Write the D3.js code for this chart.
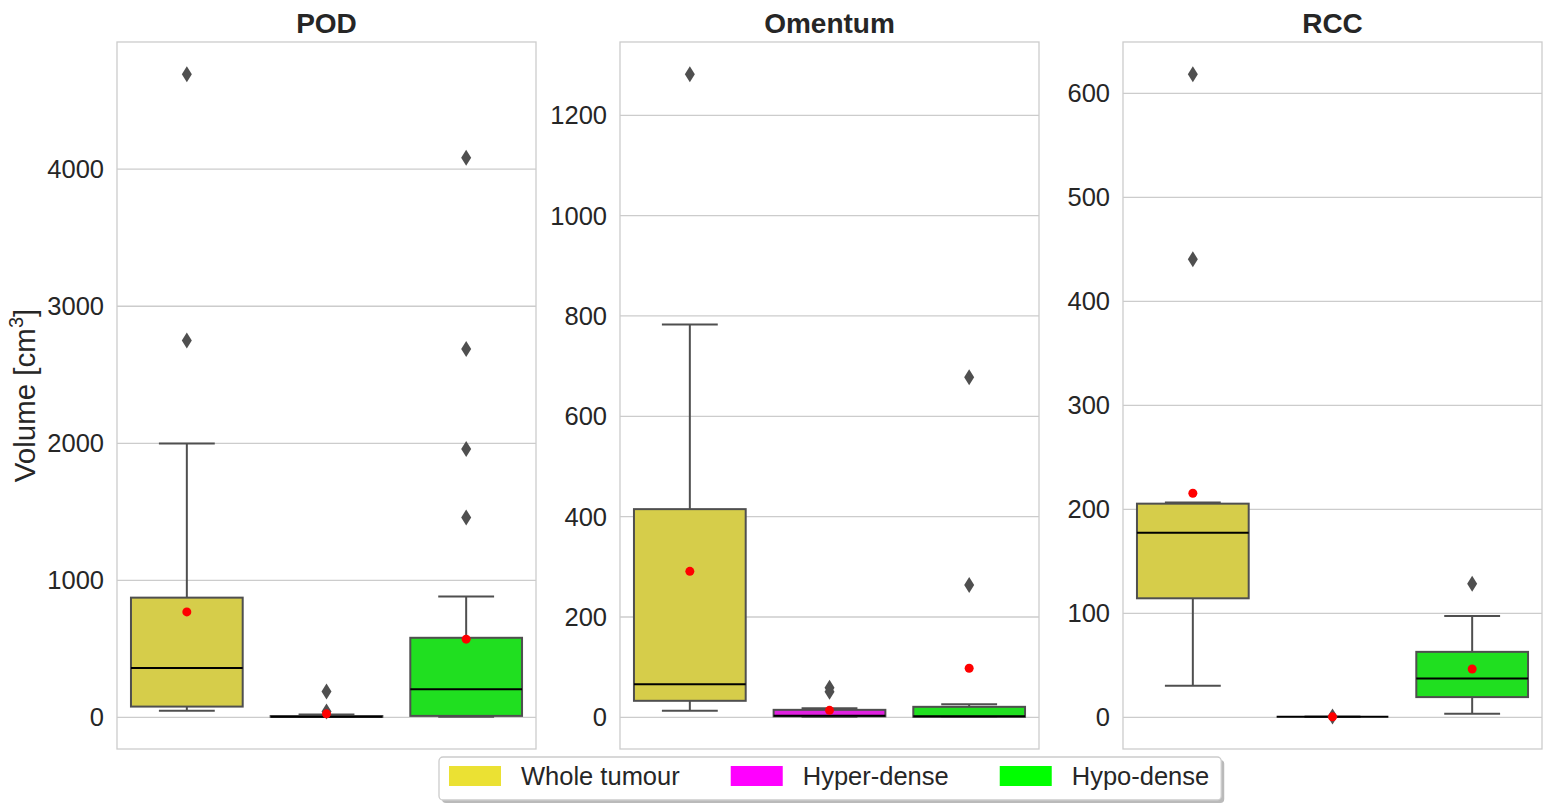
<!DOCTYPE html>
<html>
<head>
<meta charset="utf-8">
<script src="https://cdn.jsdelivr.net/npm/d3@7"></script>
<style>
  html, body { margin: 0; padding: 0; background: #fff; }
  svg { display: block; font-family: "Liberation Sans", Arial, Helvetica, sans-serif; }
</style>
</head>
<body>
<svg id="chart"></svg>
<script>
(function() {

    // categories
    const panelNames = ['POD', 'Omentum', 'RCC'];
    const groupNames = ['Whole tumour', 'Hyper-dense', 'Hypo-dense'];

    // box summaries per group: [whisker low, Q1, median, Q3, whisker high]
    const podBoxes = [[44, 75, 356, 870, 1995], [0, 0, 1, 6, 17], [0, 7, 202, 577, 878]];
    const podMeans = [766, 22, 567];
    const podFliers = [[4690, 2747], [185, 40], [4080, 2684, 1955, 1455]];
    const podTicks = [0, 1000, 2000, 3000, 4000];

    const omentumBoxes = [[12, 32, 65, 414, 782], [0, 1, 2, 14, 17], [0, 0, 1, 20, 25]];
    const omentumMeans = [290, 13, 97];
    const omentumFliers = [[1281], [58, 50], [677, 263]];
    const omentumTicks = [0, 200, 400, 600, 800, 1000, 1200];

    const rccBoxes = [[30, 114, 177, 205, 206], [0, 0, 0, 0, 0], [3, 19, 37, 62.5, 97]];
    const rccMeans = [215, 0, 46];
    const rccFliers = [[618, 440], [0.3], [128]];
    const rccTicks = [0, 100, 200, 300, 400, 500, 600];

    const legendColors = ['#ebe133', '#ff00ff', '#00ff00'];
    const boxColors = ['#d6cd4a', '#df20df', '#20df20'];

    const panels = [
        { name: panelNames[0], boxes: podBoxes, means: podMeans, fliers: podFliers, ticks: podTicks },
        { name: panelNames[1], boxes: omentumBoxes, means: omentumMeans, fliers: omentumFliers, ticks: omentumTicks },
        { name: panelNames[2], boxes: rccBoxes, means: rccMeans, fliers: rccFliers, ticks: rccTicks },
    ];

    const w = 1554;
    const h = 803;
    const firstLeft = 117;
    const panelW = 419;
    const panelGap = 84;
    const top = 42;
    const bottom = 749;
    const textColor = '#262626';
    const lineGray = '#4f4f4f';
    const gridColor = '#cccccc';

    const svg = d3.select('#chart')
        .attr('width', w)
        .attr('height', h);

    const scaleX = d3.scaleBand()
        .domain(groupNames)
        .range([0, panelW]);
    const boxW = scaleX.bandwidth() * 0.8;
    const capW = boxW / 2;

    const diamond = 'M0,-8L5,0L0,8L-5,0Z';

    panels.forEach((p, pi) => {

        const left = firstLeft + pi * (panelW + panelGap);
        const all = p.boxes.flat().concat(p.means, p.fliers.flat());
        const lo = d3.min(all);
        const hi = d3.max(all);
        const pad = (hi - lo) * 0.05;

        const scaleY = d3.scaleLinear()
            .domain([lo - pad, hi + pad])
            .range([bottom, top]);

        const g = svg.append('g')
            .attr('transform', `translate(${left}, 0)`);

        // Grid + tick labels
        const yAxis = d3.axisLeft(scaleY)
            .tickValues(p.ticks)
            .tickSize(-panelW)
            .tickPadding(13)
            .tickFormat(d3.format('d'));

        const axisG = g.append('g').call(yAxis);
        axisG.select('.domain').remove();
        axisG.selectAll('.tick line')
            .attr('stroke', gridColor)
            .attr('stroke-width', 1.3);
        axisG.selectAll('.tick text')
            .attr('fill', textColor)
            .style('font-size', '25.5px')
            .attr('dy', '0.35em');

        // Title
        g.append('text')
            .attr('x', panelW / 2)
            .attr('y', 33)
            .attr('text-anchor', 'middle')
            .attr('fill', textColor)
            .style('font-size', '28px')
            .style('font-weight', 'bold')
            .text(p.name);

        // Boxes
        p.boxes.forEach((b, i) => {
            const cx = scaleX(groupNames[i]) + scaleX.bandwidth() / 2;
            const [wlo, q1, med, q3, whi] = b;
            const bg = g.append('g');

            bg.append('line')
                .attr('x1', cx).attr('x2', cx)
                .attr('y1', scaleY(q3)).attr('y2', scaleY(whi))
                .attr('stroke', lineGray).attr('stroke-width', 2);
            bg.append('line')
                .attr('x1', cx).attr('x2', cx)
                .attr('y1', scaleY(q1)).attr('y2', scaleY(wlo))
                .attr('stroke', lineGray).attr('stroke-width', 2);

            [wlo, whi].forEach(v => {
                bg.append('line')
                    .attr('x1', cx - capW / 2).attr('x2', cx + capW / 2)
                    .attr('y1', scaleY(v)).attr('y2', scaleY(v))
                    .attr('stroke', lineGray).attr('stroke-width', 2);
            });

            bg.append('rect')
                .attr('x', cx - boxW / 2)
                .attr('y', scaleY(q3))
                .attr('width', boxW)
                .attr('height', Math.max(0, scaleY(q1) - scaleY(q3)))
                .attr('fill', boxColors[i])
                .attr('stroke', lineGray)
                .attr('stroke-width', 2);

            bg.append('line')
                .attr('x1', cx - boxW / 2).attr('x2', cx + boxW / 2)
                .attr('y1', scaleY(med)).attr('y2', scaleY(med))
                .attr('stroke', '#000').attr('stroke-width', 2);

            // Fliers
            bg.selectAll('path')
                .data(p.fliers[i])
                .enter()
                .append('path')
                .attr('d', diamond)
                .attr('transform', d => `translate(${cx}, ${scaleY(d)})`)
                .attr('fill', lineGray);

            // Mean
            bg.append('circle')
                .attr('cx', cx)
                .attr('cy', scaleY(p.means[i]))
                .attr('r', 4.5)
                .attr('fill', '#ff0000');
        });

        // Frame
        g.append('rect')
            .attr('x', 0)
            .attr('y', top)
            .attr('width', panelW)
            .attr('height', bottom - top)
            .attr('fill', 'none')
            .attr('stroke', gridColor)
            .attr('stroke-width', 1.3);
    });

    // Y label
    const yLabel = svg.append('text')
        .attr('transform', `translate(35, ${(top + bottom) / 2}) rotate(-90)`)
        .attr('text-anchor', 'middle')
        .attr('fill', textColor)
        .style('font-size', '29.5px');
    yLabel.append('tspan').text('Volume [cm');
    yLabel.append('tspan')
        .attr('dy', -12)
        .style('font-size', '20px')
        .text('3');
    yLabel.append('tspan')
        .attr('dy', 12)
        .text(']');

    // Legend
    const legendX = 439;
    const legendY = 757;
    const legendH = 43;
    const legend = svg.append('g');
    const shadow = legend.append('rect');
    const frame = legend.append('rect');

    let cursor = legendX + 10;
    groupNames.forEach((name, i) => {
        legend.append('rect')
            .attr('x', cursor)
            .attr('y', legendY + 9)
            .attr('width', 52)
            .attr('height', 20)
            .attr('fill', legendColors[i]);
        const t = legend.append('text')
            .attr('x', cursor + 72)
            .attr('y', legendY + 28)
            .attr('fill', textColor)
            .style('font-size', '25.5px')
            .text(name);
        cursor = cursor + 72 + t.node().getComputedTextLength() + 51;
    });
    const legendW = cursor - 51 + 12 - legendX;

    shadow
        .attr('x', legendX + 3).attr('y', legendY + 3)
        .attr('width', legendW).attr('height', legendH)
        .attr('rx', 4)
        .attr('fill', '#8c8c8c')
        .attr('opacity', 0.6);
    frame
        .attr('x', legendX).attr('y', legendY)
        .attr('width', legendW).attr('height', legendH)
        .attr('rx', 4)
        .attr('fill', '#fff')
        .attr('stroke', '#cccccc')
        .attr('stroke-width', 1.3);

})();
</script>
</body>
</html>
